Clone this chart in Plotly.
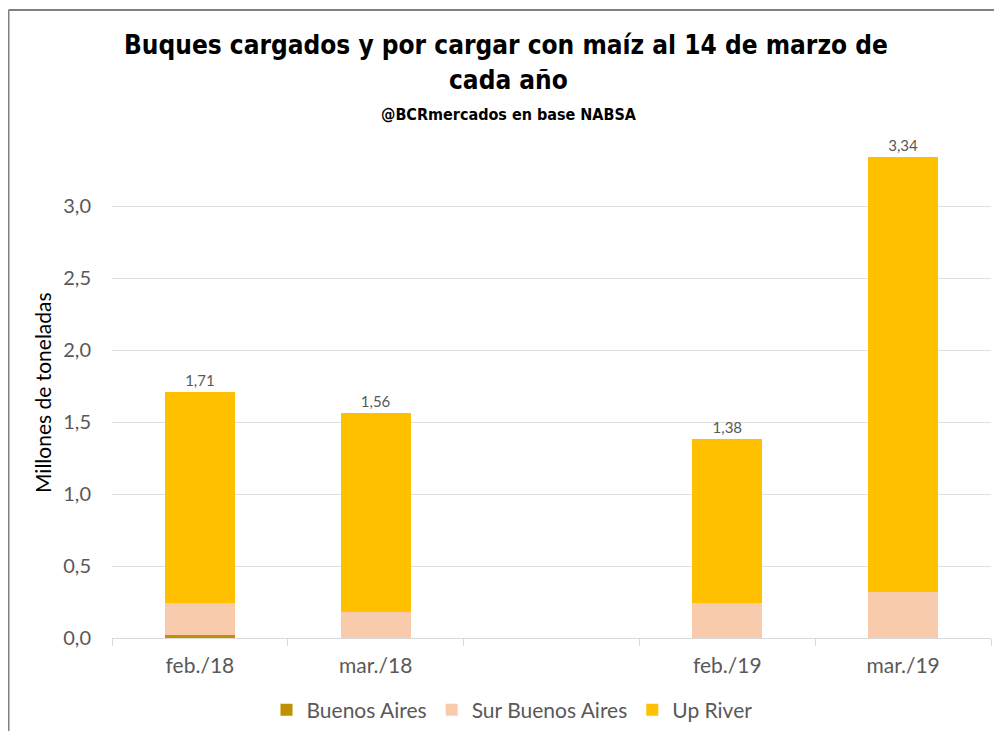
import plotly.graph_objects as go

categories = ["feb./18", "mar./18", " ", "feb./19", "mar./19"]
buenos_aires = [0.02, 0.0, None, 0.0, 0.0]
sur_buenos_aires = [0.22, 0.18, None, 0.24, 0.32]
up_river = [1.47, 1.38, None, 1.14, 3.02]
total_labels = ["1,71", "1,56", "", "1,38", "3,34"]
y_ticks = [0, 0.5, 1.0, 1.5, 2.0, 2.5, 3.0]
y_tick_labels = ["0,0", "0,5", "1,0", "1,5", "2,0", "2,5", "3,0"]

# the page body has an 8px margin: the figure is drawn from (8, 8)
OFF = 8
W, H = 1002 - OFF, 731 - OFF
L, R, T, B = 112 - OFF, 11, 134 - OFF, 93
pw, ph = W - L - R, H - T - B

def px2x(px):
    return (px - OFF - L) / pw

def py2y(py):
    return (H - B - (py - OFF)) / ph

label_font = "Lato, Open Sans, sans-serif"
title_font = "DejaVu Sans Condensed, sans-serif"
grey = "#595959"

fig = go.Figure()
fig.add_trace(go.Bar(x=categories, y=buenos_aires, name="Buenos Aires",
                     marker=dict(color="#BF9000", line=dict(width=0))))
fig.add_trace(go.Bar(x=categories, y=sur_buenos_aires, name="Sur Buenos Aires",
                     marker=dict(color="#F8CBAD", line=dict(width=0))))
fig.add_trace(go.Bar(x=categories, y=up_river, name="Up River",
                     marker=dict(color="#FFC000", line=dict(width=0)),
                     text=total_labels, textposition="outside",
                     textfont=dict(family=label_font, size=15, color=grey),
                     cliponaxis=False))

fig.update_layout(
    width=W, height=H,
    margin=dict(l=L, r=R, t=T, b=B, autoexpand=False),
    barmode="stack", bargap=0.6,
    plot_bgcolor="white", paper_bgcolor="white",
    separators=",.",
    xaxis=dict(type="category", categoryorder="array", categoryarray=categories,
               showgrid=False, showline=True, linecolor="#D9D9D9", linewidth=1,
               ticks="outside", tickson="boundaries", ticklen=7, tickcolor="#D9D9D9",
               ticklabelstandoff=9,
               tickfont=dict(family=label_font, size=21, color=grey)),
    yaxis=dict(range=[0, 3.5], tickvals=y_ticks, ticktext=y_tick_labels,
               showgrid=True, gridcolor="#E0E0E0", gridwidth=1, zeroline=False,
               showline=False, ticks="", ticklabelstandoff=20,
               tickfont=dict(family=label_font, size=20, color=grey)),
    legend=dict(orientation="h", x=px2x(512), xanchor="center", y=py2y(710), yanchor="middle",
                font=dict(family=label_font, size=21, color=grey),
                traceorder="normal", itemwidth=30),
    showlegend=True,
)

fig.add_annotation(text="<b>Buques cargados y por cargar con maíz al 14 de marzo de</b>",
                   xref="paper", yref="paper", x=px2x(506), y=py2y(45),
                   xanchor="center", yanchor="middle", showarrow=False,
                   font=dict(family=title_font, size=26, color="#000000"))
fig.add_annotation(text="<b>cada año</b>",
                   xref="paper", yref="paper", x=px2x(508), y=py2y(80),
                   xanchor="center", yanchor="middle", showarrow=False,
                   font=dict(family=title_font, size=26, color="#000000"))
fig.add_annotation(text="<b>@BCRmercados en base NABSA</b>", xref="paper", yref="paper",
                   x=px2x(509), y=py2y(115), xanchor="center", yanchor="middle",
                   showarrow=False, font=dict(family=title_font, size=16, color="#000000"))
fig.add_annotation(text="Millones de toneladas", xref="paper", yref="paper",
                   x=px2x(42), y=py2y(393), xanchor="center", yanchor="middle",
                   textangle=-90, showarrow=False,
                   font=dict(family=label_font, size=21, color="#000000"))

# frame of the original screenshot
fig.add_shape(type="line", xref="paper", yref="paper",
              x0=px2x(8.5), x1=px2x(8.5), y0=py2y(10), y1=py2y(740),
              line=dict(color="#808080", width=2))
fig.add_shape(type="line", xref="paper", yref="paper",
              x0=px2x(8.5), x1=px2x(1010), y0=py2y(10), y1=py2y(10),
              line=dict(color="#808080", width=2))

fig.write_html("out.html")
